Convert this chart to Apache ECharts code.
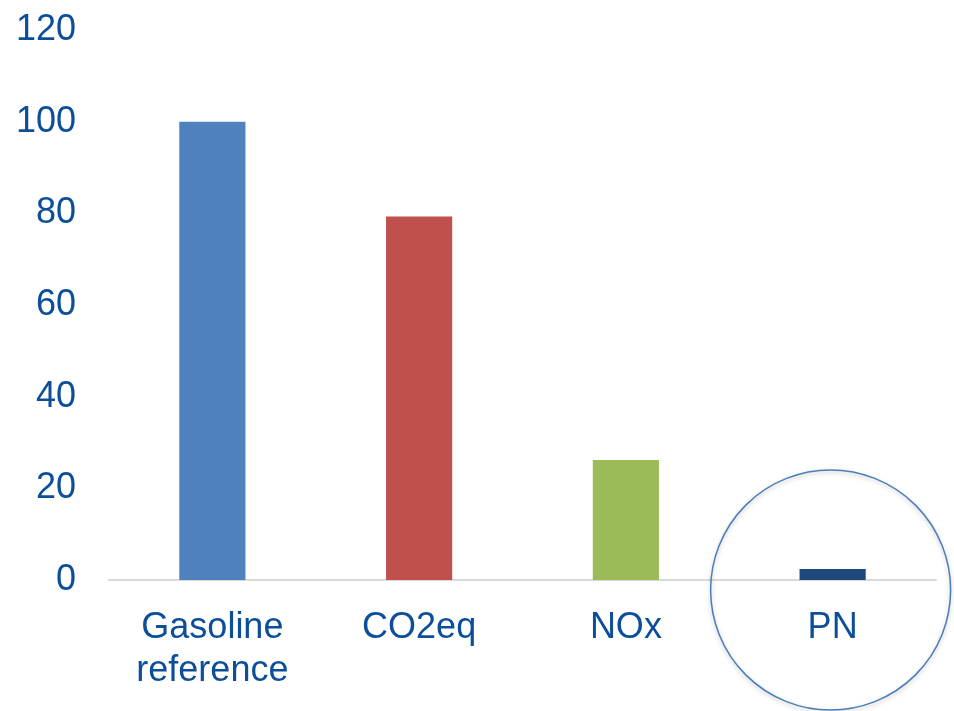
<!DOCTYPE html>
<html>
<head>
<meta charset="utf-8">
<style>
  html, body { margin: 0; padding: 0; background: #ffffff; }
  #chart { width: 954px; height: 711px; }
</style>
<script src="https://cdn.jsdelivr.net/npm/echarts@6/dist/echarts.min.js"></script>
</head>
<body>
<div id="chart"></div>
<script>
// Emissions relative to the gasoline reference (= 100)
const categories = ['Gasoline\nreference', 'CO2eq', 'NOx', 'PN'];
const values = [100, 79.3, 26.2, 2.4];
const barColors = ['#4F81BD', '#C0504D', '#9BBB59', '#1F497D'];
const yTicks = { min: 0, max: 120, interval: 20 };

const textColor = '#0C4E9A';
const fontFamily = '"Liberation Sans", Arial, sans-serif';

const chart = echarts.init(document.getElementById('chart'));

chart.setOption({
  backgroundColor: '#ffffff',
  animation: false,
  grid: { left: 109, right: 18, top: 30, bottom: 131, containLabel: false },
  xAxis: {
    type: 'category',
    data: categories,
    axisLine: { show: true, lineStyle: { color: '#D9D9D9', width: 2 } },
    axisTick: { show: false },
    axisLabel: {
      color: textColor,
      fontFamily: fontFamily,
      fontSize: 36,
      lineHeight: 43,
      margin: 27,
      interval: 0
    },
    splitLine: { show: false }
  },
  yAxis: {
    type: 'value',
    min: yTicks.min,
    max: yTicks.max,
    interval: yTicks.interval,
    axisLine: { show: false },
    axisTick: { show: false },
    splitLine: { show: false },
    axisLabel: {
      color: textColor,
      fontFamily: fontFamily,
      fontSize: 36,
      margin: 33,
      padding: [4, 0, 0, 0]
    }
  },
  series: [{
    type: 'bar',
    barWidth: '32%',
    data: values.map((v, i) => ({ value: v, itemStyle: { color: barColors[i] } }))
  }]
});

// Highlight ring around the PN category
const pnCenter = chart.convertToPixel({ gridIndex: 0 }, [categories[3], 0]);
chart.setOption({
  graphic: [{
    type: 'circle',
    shape: { cx: pnCenter[0] - 2, cy: pnCenter[1] + 10, r: 120 },
    style: {
      fill: 'none',
      stroke: '#4A7EBB',
      lineWidth: 1.5,
      shadowBlur: 4,
      shadowColor: 'rgba(0,0,0,0.25)',
      shadowOffsetY: 2
    },
    z: 10
  }]
});
</script>
</body>
</html>
